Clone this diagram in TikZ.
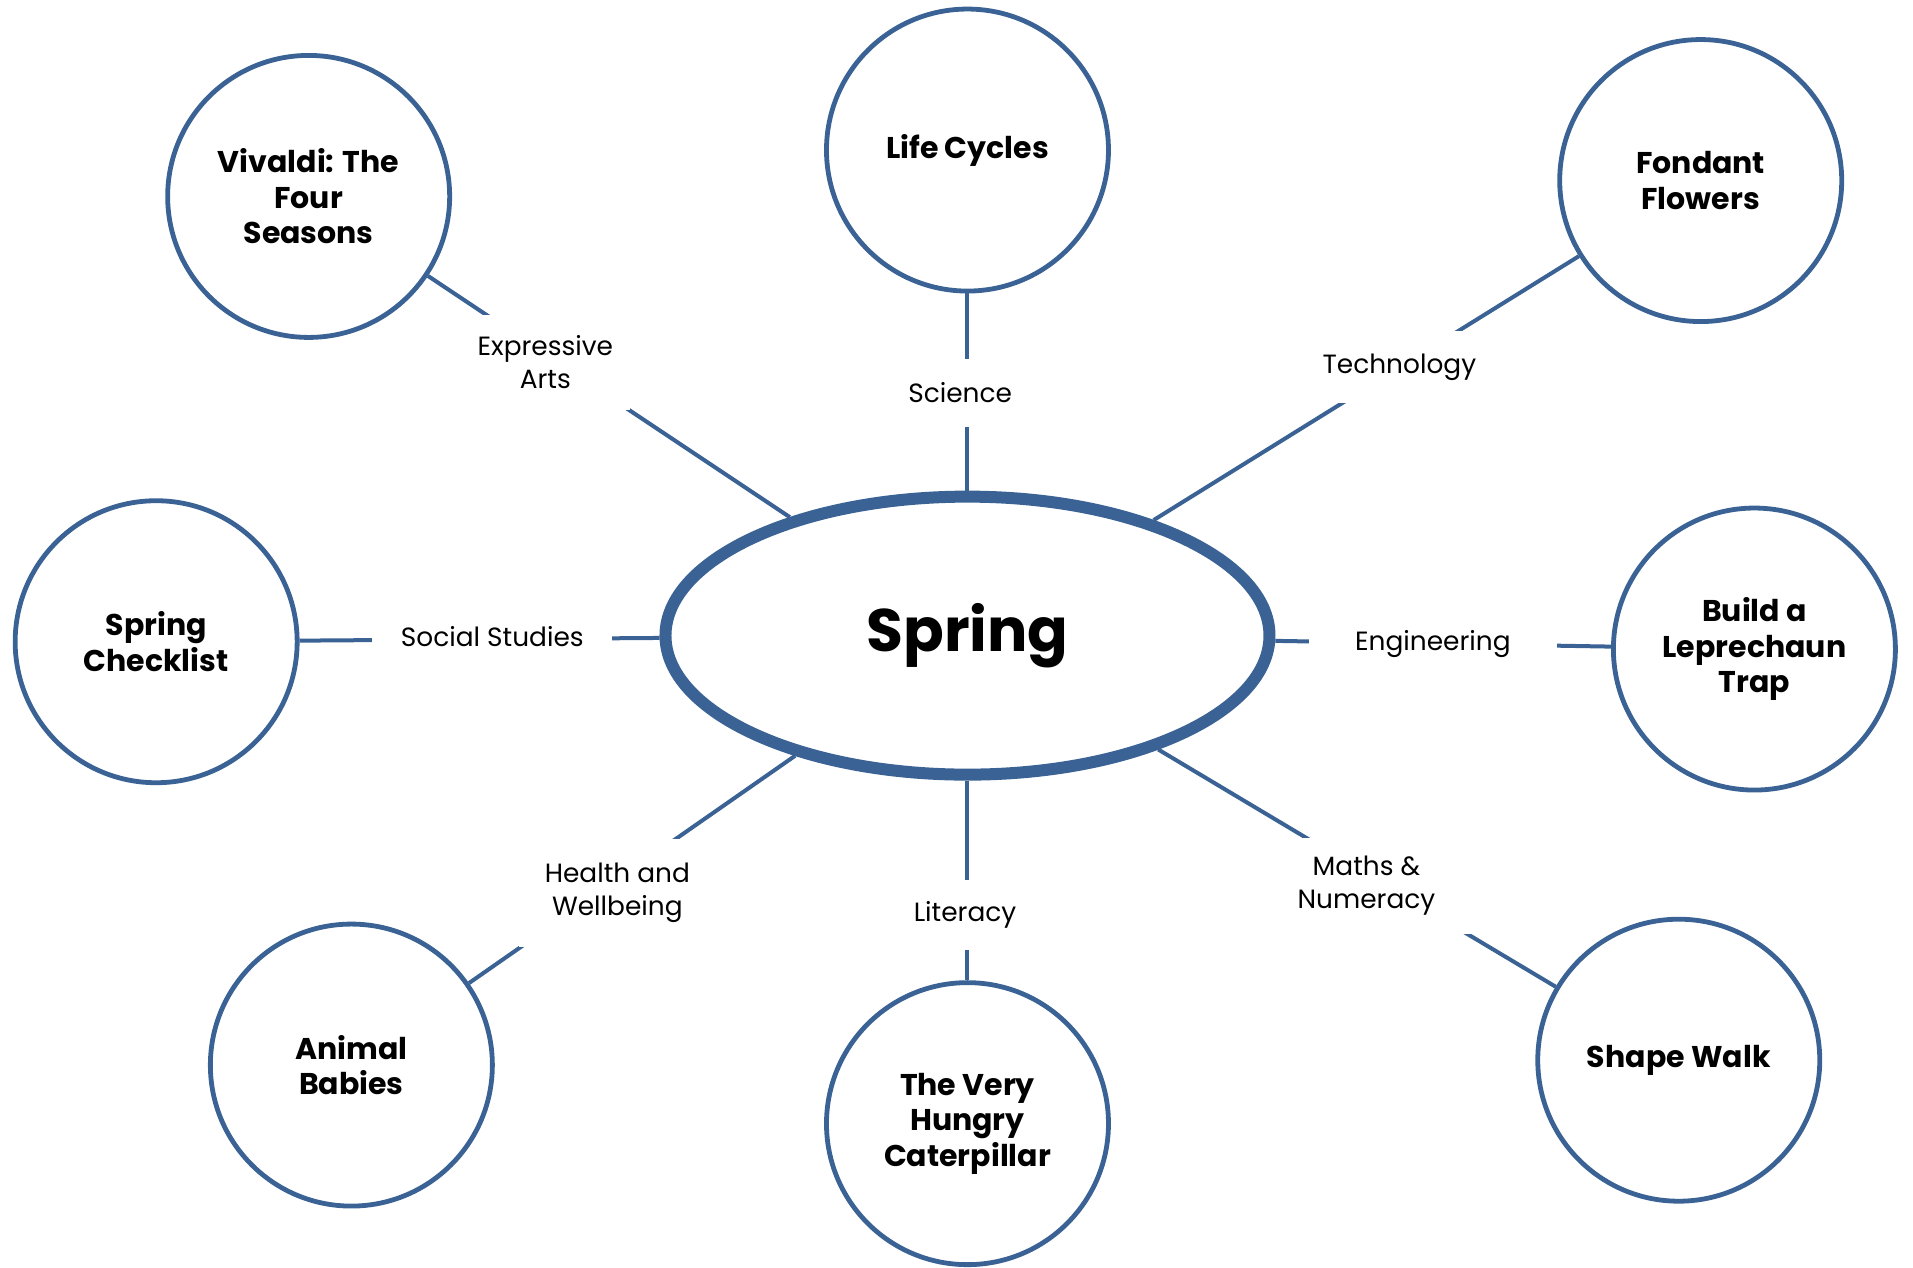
\documentclass[tikz,border=0pt]{standalone}
\usepackage{fontspec}
\setmainfont{Poppins}
\usetikzlibrary{shapes.geometric}
\definecolor{springblue}{RGB}{58,98,148}

\begin{document}
\begin{tikzpicture}[x=0.61pt, y=-0.61pt]
		\tikzstyle{Topic} = [circle, minimum size=141pt, inner sep=0pt, align=center, draw=springblue, line width=2.4pt, font=\fontsize{15}{17.7}\selectfont\bfseries]
		\tikzstyle{Hub} = [ellipse, minimum width=302pt, minimum height=139pt, inner sep=0pt, draw=springblue, line width=6pt, font=\fontsize{30}{36}\selectfont\bfseries]
		\tikzstyle{Subject} = [rectangle, fill=white, inner sep=0pt, align=center, font=\fontsize{13.2}{16.5}\selectfont]
		\tikzstyle{link} = [draw=springblue, line width=2pt]
		
		\useasboundingbox (0,0) rectangle (1568,1039);
		
		% centre and topics
		\node (spring) [Hub] at (793,521) {Spring};
		\node (vivaldi) [Topic] at (253,161) {Vivaldi: The\\Four\\Seasons};
		\node (cycles) [Topic] at (793,123) {Life Cycles};
		\node (fondant) [Topic] at (1394,148) {Fondant\\Flowers};
		\node (checklist) [Topic] at (128,526) {Spring\\Checklist};
		\node (trap) [Topic] at (1438,532) {Build a\\Leprechaun\\Trap};
		\node (babies) [Topic] at (288,873) {Animal\\Babies};
		\node (caterpillar) [Topic] at (793,921) {The Very\\Hungry\\Caterpillar};
		\node (walk) [Topic] at (1376,869) {Shape Walk};
		
		\foreach \t in {vivaldi, cycles, fondant, checklist, trap, babies, caterpillar, walk}
		\draw [link] (\t) -- (spring);
		
		% subjects
		\node (arts) [Subject, minimum width=85pt, minimum height=47.6pt] at (447,297) {Expressive\\Arts};
		\node (science) [Subject, minimum width=67pt, minimum height=34pt] at (787,322) {Science};
		\node (tech) [Subject, minimum width=85pt, minimum height=36pt] at (1147,301) {Technology};
		\node (social) [Subject, minimum width=120pt, minimum height=24pt] at (403.5,522) {Social Studies};
		\node (eng) [Subject, minimum width=124pt, minimum height=24pt] at (1174.5,528) {Engineering};
		\node (health) [Subject, minimum width=98pt, minimum height=53.7pt] at (506,732) {Health and\\Wellbeing};
		\node (literacy) [Subject, minimum width=61pt, minimum height=35.4pt] at (791,750) {Literacy};
		\node (maths) [Subject, minimum width=110pt, minimum height=48pt] at (1120,726) {Maths \&\\Numeracy};
\end{tikzpicture}
\end{document}
